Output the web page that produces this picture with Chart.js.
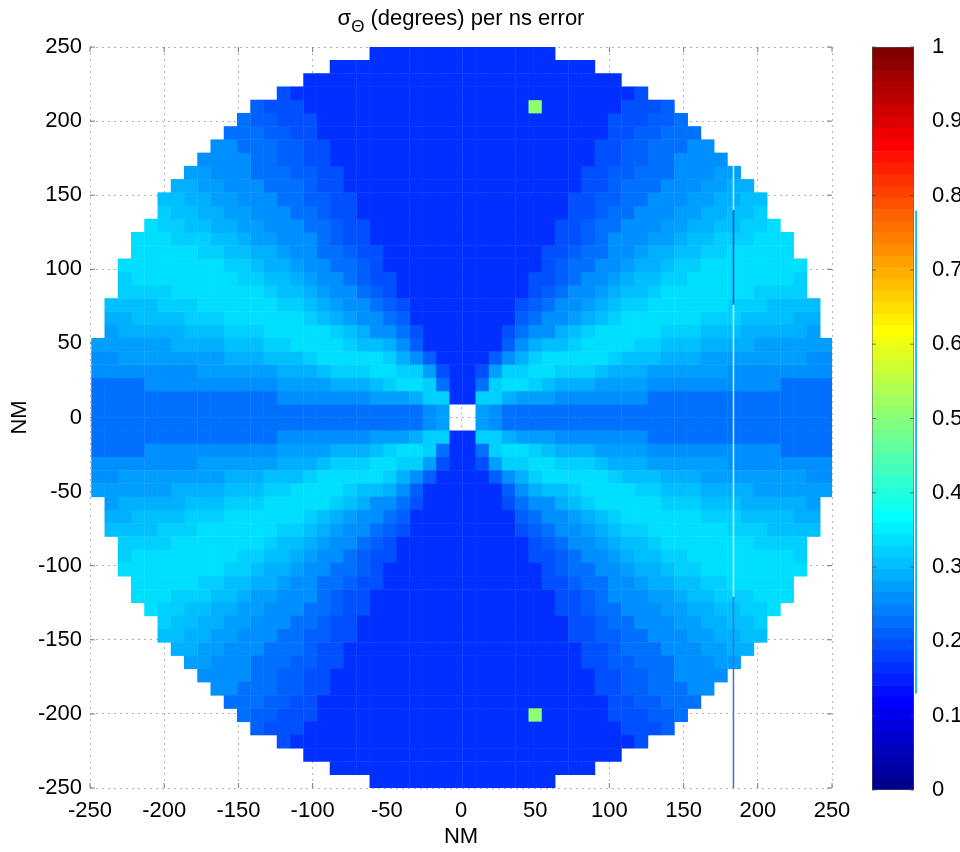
<!DOCTYPE html>
<html>
<head>
<meta charset="utf-8">
<title>sigma theta per ns error</title>
<script src="https://cdn.jsdelivr.net/npm/chart.js@4.4.1/dist/chart.umd.min.js"></script>
<style>
  html, body { margin: 0; padding: 0; background: #fff; }
  #wrap { position: relative; width: 960px; height: 852px; }
  #map { position: absolute; left: 0; top: 0; }
  #bar { position: absolute; left: 840px; top: 0; }
</style>
</head>
<body>
<div id="wrap">
  <canvas id="map" width="960" height="852" style="width:960px;height:852px"></canvas>
  <canvas id="bar" width="120" height="852" style="width:120px;height:852px"></canvas>
</div>
<script>
// tick labels
var axisTicks = [-250, -200, -150, -100, -50, 0, 50, 100, 150, 200, 250];
var colorTicks = [0, 0.1, 0.2, 0.3, 0.4, 0.5, 0.6, 0.7, 0.8, 0.9, 1];

// sigma value for each level code 0..9 used in the grid below
var levelValues = [0.165, 0.19, 0.21, 0.23, 0.25, 0.27, 0.285, 0.30, 0.32, 0.335];

// one quadrant of the 56x56 grid (mirrored to the other three)
// row 1 = row next to the centre, codes run from the centre outwards, "-" = no data
// "c*n" = code c repeated n times
var quadrantRows = [
  '-,5,4,3*25',
  '0,8*2,6,5*3,4*7,3*14',
  '0,3,8,9*2,8,7,6*3,5*4,4*10,3*4',
  '0,1,5,8*2,9*2,8*3,7,6*3,5*6,4*8',
  '0*2,2,4,6,8,9*5,8,7*3,6*3,5*8,4*2',
  '0*3,2,4,6,7*2,8,9*4,8*2,7*3,6*4,5*6',
  '0*3,1,3,4*2,6,7,8,9*5,8*3,7*3,6*5,5',
  '0*4,2,3,4*2,5,6,7,8,9*6,8*3,7*4,6*2',
  '0*4,1,2,3,4*2,5,6,7,8*2,9*6,8*3,7*4',
  '0*5,1,2,3,4*2,5,6,7*2,8,9*7,8*4',
  '0*5,1*2,2,3,4*2,5,6,7*2,8*2,9*8,8',
  '0*6,1,2,3*2,4*2,5,6*2,7,8*2,9*8',
  '0*6,1*2,2,3*2,4*2,5,6*2,7*2,8*2,9*5',
  '0*7,1*2,2,3,4*3,5*2,6,7*2,8*3,9*3',
  '0*7,1*2,2,3*2,4*3,5*2,6*2,7*2,8*2,9',
  '0*8,1*2,2,3*2,4*3,5*2,6*2,7*2,8',
  '0*8,1*2,2*2,3*2,4*3,5*2,6*2,7*2',
  '0*9,1*2,2,3*3,4*3,5*2,6*2',
  '0*9,1*2,2*2,3*3,4*3,5*2',
  '0*10,1*2,2*2,3*2,4*4',
  '0*10,1*2,2*2,3*3,4*2',
  '0*11,1*2,2*2,3*3',
  '0*11,1*3,2*2,3',
  '0*12,1*3,2',
  '0*13,1',
  '0*12',
  '0*10',
  '0*7'
];

// single odd cells (column, row counted from the centre, sign = side)
var spikeCols = [6, 6];
var spikeRows = [24, -23];
var spikeValues = [0.5, 0.5];

// thin seam crossing the map (NM), as it shows in the picture
var seamX = 183.6;
var seamY = [170, 140, 76, -121, -250];
var seamColors = ['rgba(255,255,255,0.8)', '#1c45d6', 'rgba(255,255,255,0.8)', '#3f6fd8'];

var gridCount = 56;
var cellSize = 500 / gridCount;
var gridShiftX = 1;

function jet(m) {
  var n = Math.ceil(m / 4), u = [], i;
  for (i = 1; i <= n; i++) u.push(i / n);
  for (i = 1; i < n; i++) u.push(1);
  for (i = n; i >= 1; i--) u.push(i / n);
  var g0 = Math.ceil(n / 2) - (m % 4 === 1 ? 1 : 0);
  var J = [];
  for (i = 0; i < m; i++) J.push([0, 0, 0]);
  u.forEach(function (val, k) {
    var gi = g0 + k + 1, ri = gi + n, bi = gi - n;
    if (ri <= m) J[ri - 1][0] = val;
    if (gi <= m) J[gi - 1][1] = val;
    if (bi >= 1) J[bi - 1][2] = val;
  });
  return J.map(function (c) {
    return 'rgb(' + Math.round(c[0] * 255) + ',' + Math.round(c[1] * 255) + ',' + Math.round(c[2] * 255) + ')';
  });
}
var jetColors = jet(64);
function colorOf(v) {
  return jetColors[Math.max(0, Math.min(63, Math.floor(v * 64)))];
}

// build the cells
var cells = [];
quadrantRows.forEach(function (rowCode, ri) {
  var codes = [];
  rowCode.split(',').forEach(function (tok) {
    var p = tok.split('*');
    var n = p[1] ? +p[1] : 1;
    for (var k = 0; k < n; k++) codes.push(p[0]);
  });
  codes.forEach(function (code, ci) {
    if (code === '-') return;
    [-1, 1].forEach(function (sx) {
      [-1, 1].forEach(function (sy) {
        cells.push({ col: sx * (ci + 1), row: sy * (ri + 1), v: levelValues[+code] });
      });
    });
  });
});
spikeCols.forEach(function (col, i) {
  cells.forEach(function (c) {
    if (c.col === col && c.row === spikeRows[i]) c.v = spikeValues[i];
  });
});
var cellPoints = cells.map(function (c) {
  return {
    x: gridShiftX + Math.sign(c.col) * (Math.abs(c.col) - 0.5) * cellSize,
    y: Math.sign(c.row) * (Math.abs(c.row) - 0.5) * cellSize,
    v: c.v
  };
});

var tickFont = { family: "'Liberation Sans', Arial, sans-serif", size: 22 };

var titlePlugin = {
  id: 'sigmaTitle',
  afterDraw: function (chart) {
    var ctx = chart.ctx;
    var big = '22px "Liberation Sans", Arial, sans-serif';
    var small = '17px "Liberation Sans", Arial, sans-serif';
    var parts = [['\u03c3', big, 0], ['\u0398', small, 7], [' (degrees) per ns error', big, 0]];
    ctx.save();
    var total = 0;
    parts.forEach(function (p) { ctx.font = p[1]; total += ctx.measureText(p[0]).width; });
    var x = (chart.chartArea.left + chart.chartArea.right) / 2 - total / 2;
    ctx.fillStyle = '#000';
    ctx.textBaseline = 'alphabetic';
    parts.forEach(function (p) {
      ctx.font = p[1];
      ctx.fillText(p[0], x, 25 + p[2]);
      x += ctx.measureText(p[0]).width;
    });
    ctx.restore();
  }
};

var innerTicks = {
  id: 'innerTicks',
  beforeDatasetsDraw: function (chart) {
    var ctx = chart.ctx, a = chart.chartArea, x = chart.scales.x, y = chart.scales.y;
    ctx.save();
    ctx.strokeStyle = '#7a7a7a';
    ctx.lineWidth = 1;
    axisTicks.forEach(function (v) {
      var px = x.getPixelForValue(v), py = y.getPixelForValue(v);
      ctx.beginPath();
      ctx.moveTo(px, a.bottom); ctx.lineTo(px, a.bottom - 5);
      ctx.moveTo(px, a.top); ctx.lineTo(px, a.top + 5);
      ctx.moveTo(a.left, py); ctx.lineTo(a.left + 5, py);
      ctx.moveTo(a.right, py); ctx.lineTo(a.right - 5, py);
      ctx.stroke();
    });
    ctx.restore();
  }
};

function fixedTicks(list) {
  return function (scale) { scale.ticks = list.map(function (v) { return { value: v }; }); };
}

new Chart(document.getElementById('map'), {
  type: 'scatter',
  data: {
    datasets: [{
      data: cellPoints,
      order: 1,
      pointStyle: 'rect',
      pointBorderWidth: 0,
      clip: 0,
      pointRadius: function (ctx) {
        var s = ctx.chart.scales.x;
        return Math.abs(s.getPixelForValue(cellSize) - s.getPixelForValue(0)) * 0.73;
      },
      pointBackgroundColor: function (ctx) { return colorOf(ctx.raw.v); }
    }, {
      type: 'line',
      order: 0,
      data: seamY.map(function (y) { return { x: seamX, y: y }; }),
      borderWidth: 1.5,
      pointRadius: 0,
      clip: 0,
      segment: { borderColor: function (ctx) { return seamColors[ctx.p0DataIndex]; } }
    }]
  },
  options: {
    responsive: false,
    animation: false,
    events: [],
    layout: { padding: { left: 0, right: 128, top: 47, bottom: 0 } },
    plugins: { legend: { display: false }, tooltip: { enabled: false } },
    scales: {
      x: {
        type: 'linear', min: -250, max: 250,
        afterBuildTicks: fixedTicks(axisTicks),
        afterFit: function (s) { s.height = 64; },
        grid: { color: '#b3b3b3', lineWidth: 1, drawTicks: false },
        border: { display: false, dash: [2, 4] },
        ticks: { padding: 10, color: '#000', font: tickFont, maxRotation: 0, callback: function (v) { return String(v); } },
        title: { display: true, text: 'NM', color: '#000', font: tickFont, padding: { top: 0, bottom: 2 } }
      },
      y: {
        type: 'linear', min: -250, max: 250,
        afterBuildTicks: fixedTicks(axisTicks),
        afterFit: function (s) { s.width = 90; },
        grid: { color: '#b3b3b3', lineWidth: 1, drawTicks: false },
        border: { display: false, dash: [2, 4] },
        ticks: { padding: 8, color: '#000', font: tickFont, callback: function (v) { return String(v); } },
        title: { display: true, text: 'NM', color: '#000', font: tickFont, padding: { top: 7, bottom: 0 } }
      }
    }
  },
  plugins: [innerTicks, titlePlugin]
});

// colour bar: stripe along its right edge as in the picture
var stripeFrom = 0.78, stripeTo = 0.13;

var barFrame = {
  id: 'barFrame',
  afterDatasetsDraw: function (chart) {
    var ctx = chart.ctx, a = chart.chartArea, y = chart.scales.y;
    ctx.save();
    ctx.strokeStyle = 'rgba(60,60,60,0.7)';
    ctx.lineWidth = 1;
    colorTicks.forEach(function (v) {
      var py = y.getPixelForValue(v);
      ctx.beginPath();
      ctx.moveTo(a.left, py); ctx.lineTo(a.left + 4, py);
      ctx.moveTo(a.right, py); ctx.lineTo(a.right - 4, py);
      ctx.stroke();
    });
    ctx.strokeStyle = 'rgba(90,90,90,0.5)';
    ctx.strokeRect(a.left + 0.5, a.top + 0.5, a.right - a.left - 1, a.bottom - a.top - 1);
    ctx.strokeStyle = 'rgba(0,190,245,0.9)';
    ctx.lineWidth = 2;
    ctx.beginPath();
    ctx.moveTo(a.right + 2, y.getPixelForValue(stripeFrom));
    ctx.lineTo(a.right + 2, y.getPixelForValue(stripeTo));
    ctx.stroke();
    ctx.restore();
  }
};

new Chart(document.getElementById('bar'), {
  type: 'bar',
  data: {
    labels: ['sigma'],
    datasets: jetColors.map(function (c) {
      return { data: [1 / 64], backgroundColor: c, borderWidth: 0, barPercentage: 1, categoryPercentage: 1 };
    })
  },
  options: {
    responsive: false,
    animation: false,
    events: [],
    layout: { padding: { left: 32, right: 0, top: 47, bottom: 62 } },
    plugins: { legend: { display: false }, tooltip: { enabled: false } },
    scales: {
      x: { display: false, stacked: true },
      y: {
        position: 'right', stacked: true, min: 0, max: 1,
        afterBuildTicks: fixedTicks(colorTicks),
        afterFit: function (s) { s.width = 46; },
        grid: { display: false },
        border: { display: false },
        ticks: { padding: 10, color: '#000', font: tickFont, callback: function (v) { return String(v); } }
      }
    }
  },
  plugins: [barFrame]
});
</script>
</body>
</html>
